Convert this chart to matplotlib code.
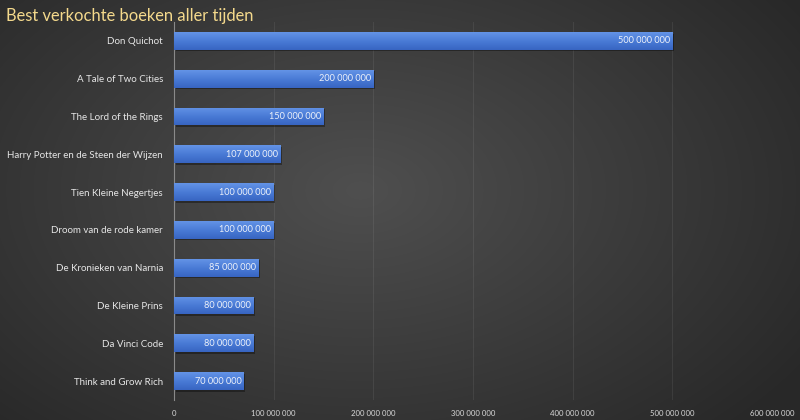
import numpy as np
import matplotlib.pyplot as plt
import matplotlib.patheffects as pe
from matplotlib.ticker import FuncFormatter

boeken = ["Don Quichot", "A Tale of Two Cities", "The Lord of the Rings",
          "Harry Potter en de Steen der Wijzen", "Tien Kleine Negertjes",
          "Droom van de rode kamer", "De Kronieken van Narnia", "De Kleine Prins",
          "Da Vinci Code", "Think and Grow Rich"]
verkocht = [500000000, 200000000, 150000000, 107000000, 100000000,
            100000000, 85000000, 80000000, 80000000, 70000000]
xticks = [0, 100000000, 200000000, 300000000, 400000000, 500000000, 600000000]


def fmt(v, pos=None):
    return f"{int(v):,}".replace(",", " ")


plt.rcParams['font.family'] = ['Lato', 'DejaVu Sans']

fig = plt.figure(figsize=(8, 4.2), dpi=100)

# achtergrond: radiaal verloop
bg = fig.add_axes([0, 0, 1, 1], zorder=-10)
yy, xx = np.mgrid[0:420, 0:800]
r = np.sqrt(((xx - 360) / 520.0) ** 2 + ((yy - 190) / 330.0) ** 2)
r = np.clip(r, 0, 1)
grey = 0.31 - 0.15 * r
bg.imshow(np.dstack([grey, grey, grey]), aspect='auto', extent=[0, 1, 0, 1])
bg.axis('off')

ax = fig.add_axes([0.2175, 0.0476, 0.7475, 0.9])
ax.patch.set_alpha(0)

y = np.arange(len(boeken))
bars = ax.barh(y, verkocht, height=0.47, color='#4877d2', zorder=3,
               path_effects=[pe.withSimplePatchShadow(offset=(1.2, -1.2), shadow_rgbFace='black', alpha=0.35)])

grad = np.linspace(0, 1, 50).reshape(-1, 1)
cmap = plt.matplotlib.colors.LinearSegmentedColormap.from_list('b', ['#6393e6', '#4a7bd6', '#3865c2'])
for b in bars:
    x0, y0, w, h = b.get_x(), b.get_y(), b.get_width(), b.get_height()
    im = ax.imshow(grad, cmap=cmap, aspect='auto', extent=[x0, x0 + w, y0 + h, y0],
                   zorder=4, origin='upper')
    im.set_clip_path(b)

for b, v in zip(bars, verkocht):
    ax.text(b.get_width() - 2500000, b.get_y() + b.get_height() / 2, fmt(v),
            ha='right', va='center', color='#eef2fa', fontsize=6.6, zorder=5)

ax.set_xlim(0, 600000000)
ax.set_ylim(len(boeken) - 0.5, -0.5)
ax.set_yticks(y)
ax.set_yticklabels(boeken, color='#e6e6e6', fontsize=7)
ax.set_xticks(xticks)
ax.xaxis.set_major_formatter(FuncFormatter(fmt))
ax.tick_params(axis='x', colors='#d8d8d8', labelsize=5.6, length=0, pad=7)
ax.tick_params(axis='y', length=0, pad=8)
ax.grid(axis='x', color='white', alpha=0.07, linewidth=0.8, zorder=0)
for s in ['top', 'right', 'bottom']:
    ax.spines[s].set_visible(False)
ax.spines['left'].set_color('#8a8a8a')
ax.spines['left'].set_linewidth(0.8)

fig.text(0.008, 0.962, "Best verkochte boeken aller tijden", color='#f4d98c',
         fontsize=11.9, ha='left', va='center')

fig.savefig("out.png", dpi=100)
plt.close()
